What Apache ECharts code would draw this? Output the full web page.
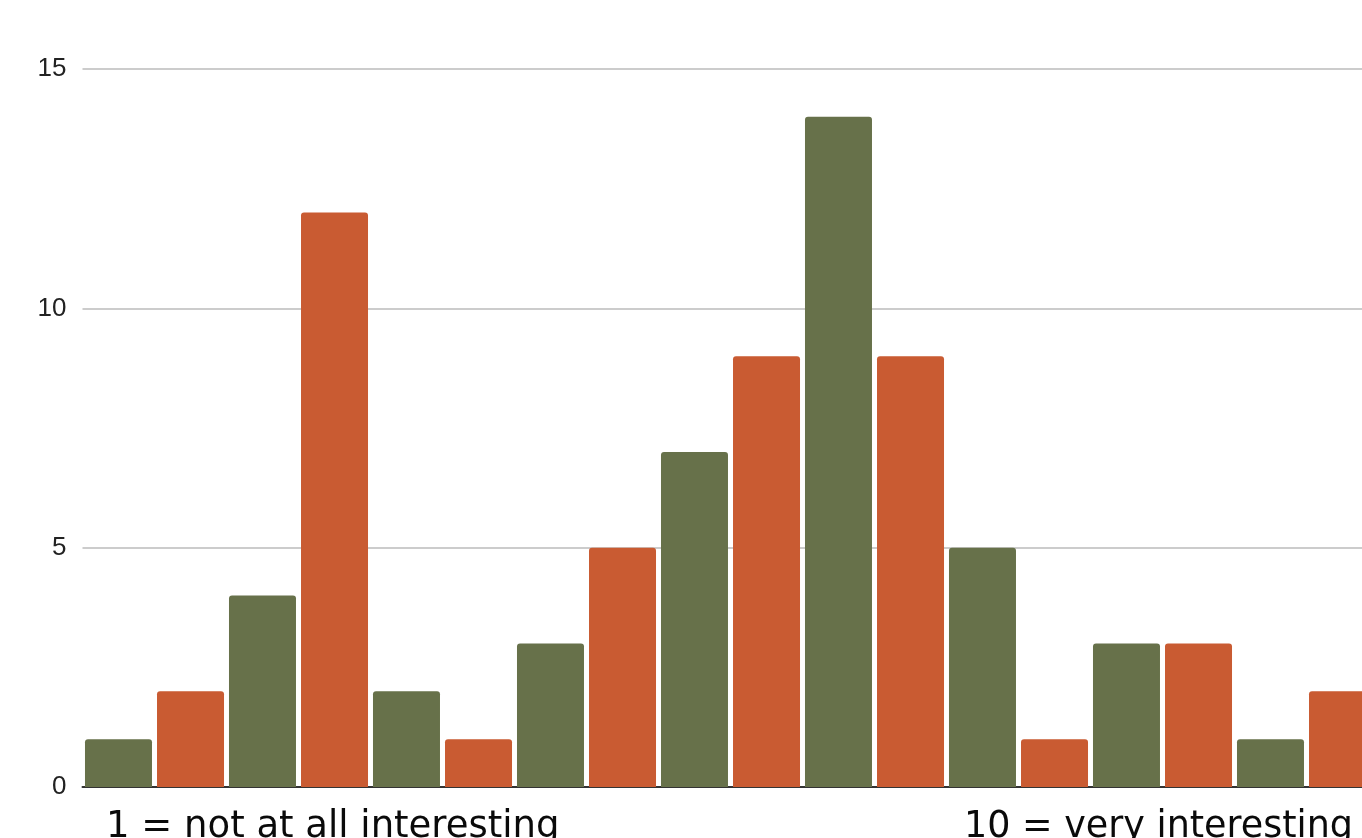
<!DOCTYPE html>
<html>
<head>
<meta charset="utf-8">
<title>Interest ratings</title>
<script src="https://cdn.jsdelivr.net/npm/echarts@6/dist/echarts.min.js"></script>
<style>
  html, body { margin: 0; padding: 0; background: #ffffff; overflow: hidden; }
  /* plot runs slightly past the right edge of the window */
  #chart { width: 1380px; height: 838px; }
</style>
</head>
<body>
<div id="chart"></div>
<script>
// Paired bars per group: green then orange
const categories = ['1', '2', '3', '4', '5', '6', '7', '8', '9'];
const greenValues = [1, 4, 2, 3, 7, 14, 5, 3, 1];
const orangeValues = [2, 12, 1, 5, 9, 9, 1, 3, 2];
const yTicks = { min: 0, max: 15, interval: 5 };
const lowLabel = '1 = not at all interesting';
const highLabel = '10 = very interesting';

const GREEN = '#67714a';
const ORANGE = '#c95b32';

const chart = echarts.init(document.getElementById('chart'), null, { renderer: 'canvas' });

const barStyle = (color) => ({
  color: color,
  borderRadius: [3, 3, 0, 0]
});

chart.setOption({
  animation: false,
  backgroundColor: '#ffffff',
  grid: { left: 82.5, top: 69, width: 1296, height: 718, containLabel: false },
  xAxis: {
    type: 'category',
    data: categories,
    axisLine: { show: true, lineStyle: { color: '#333333', width: 2 } },
    axisTick: { show: false },
    axisLabel: { show: false },
    splitLine: { show: false }
  },
  yAxis: {
    type: 'value',
    min: yTicks.min,
    max: yTicks.max,
    interval: yTicks.interval,
    axisLine: { show: false },
    axisTick: { show: false },
    axisLabel: {
      color: '#222222',
      fontFamily: 'Liberation Sans, Arial, sans-serif',
      fontSize: 26,
      margin: 16
    },
    splitLine: { lineStyle: { color: '#cccccc', width: 2 } }
  },
  series: [
    {
      name: 'green',
      type: 'bar',
      data: greenValues,
      barWidth: 67,
      barGap: '7.5%',
      itemStyle: barStyle(GREEN)
    },
    {
      name: 'orange',
      type: 'bar',
      data: orangeValues,
      barWidth: 67,
      barGap: '7.5%',
      itemStyle: barStyle(ORANGE)
    }
  ],
  graphic: [
    {
      type: 'text',
      left: 106,
      top: 809,
      style: {
        text: lowLabel,
        fill: '#0a0a0a',
        font: '37px "DejaVu Sans", sans-serif'
      }
    },
    {
      type: 'text',
      left: 964,
      top: 809,
      style: {
        text: highLabel,
        fill: '#0a0a0a',
        font: '36.5px "DejaVu Sans", sans-serif'
      }
    }
  ]
});
</script>
</body>
</html>
